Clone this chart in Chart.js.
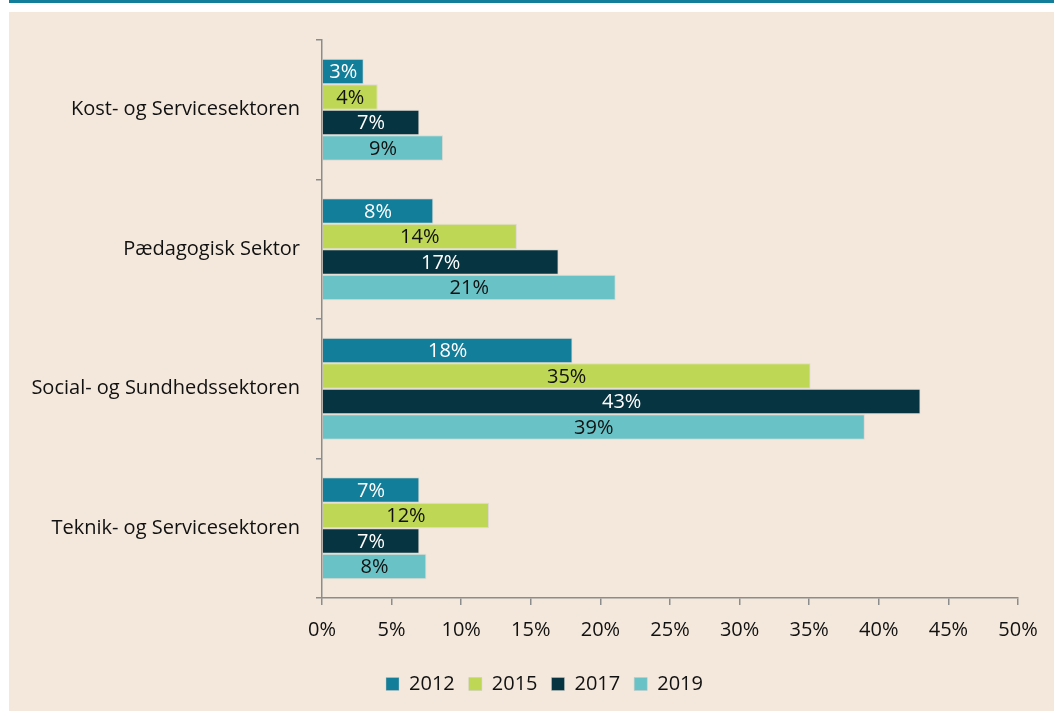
<!DOCTYPE html>
<html>
<head>
<meta charset="utf-8">
<script src="https://cdn.jsdelivr.net/npm/chart.js@4/dist/chart.umd.min.js"></script>
<style>
  html, body { margin: 0; padding: 0; background: #ffffff; width: 1054px; height: 711px; overflow: hidden; }
  #topline { position: absolute; left: 9px; top: 0; width: 1045px; height: 3px; background: #137E99; }
  #panel { position: absolute; left: 9px; top: 12px; width: 1045px; height: 699px; background: #F4E8DC; }
  #wrap { position: absolute; left: 0; top: 0; width: 1045px; height: 699px; }
</style>
</head>
<body>
<div id="topline"></div>
<div id="panel"><div id="wrap"><canvas id="c"></canvas></div></div>
<script>
const categories = ['Kost- og Servicesektoren', 'Pædagogisk Sektor', 'Social- og Sundhedssektoren', 'Teknik- og Servicesektoren'];
const years = ['2012', '2015', '2017', '2019'];
const values2012 = [3.0, 8.0, 18.0, 7.0];
const values2015 = [4.0, 14.0, 35.1, 12.0];
const values2017 = [7.0, 17.0, 43.0, 7.0];
const values2019 = [8.7, 21.1, 39.0, 7.5];
const xTicks = [0, 5, 10, 15, 20, 25, 30, 35, 40, 45, 50];

const colors = ['#137E99', '#BED755', '#073441', '#69C2C6'];
const labelColors = ['#ffffff', '#111111', '#ffffff', '#111111'];
const FONT = "'Open Sans', 'Noto Sans', sans-serif";

const barLabels = {
  id: 'barLabels',
  afterDatasetsDraw(chart) {
    const ctx = chart.ctx;
    ctx.save();
    ctx.font = '20px ' + FONT;
    ctx.textAlign = 'center';
    ctx.textBaseline = 'middle';
    chart.data.datasets.forEach((ds, i) => {
      const meta = chart.getDatasetMeta(i);
      meta.data.forEach((bar, j) => {
        const v = ds.data[j];
        ctx.fillStyle = labelColors[i];
        ctx.fillText(Math.round(v) + '%', (bar.x + bar.base) / 2, bar.y + 1);
      });
    });
    ctx.restore();
  }
};

const legendShift = {
  id: 'legendShift',
  afterLayout(chart) {
    if (chart.legend) {
      chart.legend.left += 31;
      chart.legend.right += 31;
    }
  }
};

const seriesValues = [values2012, values2015, values2017, values2019];

new Chart(document.getElementById('c'), {
  type: 'bar',
  data: {
    labels: categories,
    datasets: years.map((y, i) => ({
      label: y,
      data: seriesValues[i],
      backgroundColor: colors[i],
      borderColor: 'rgba(200,200,200,0.45)',
      borderWidth: 1,
      categoryPercentage: 0.73,
      barPercentage: 1.0
    }))
  },
  options: {
    indexAxis: 'y',
    responsive: true,
    maintainAspectRatio: false,
    animation: false,
    layout: { padding: { left: 0, right: 36, top: 28, bottom: 7 } },
    plugins: {
      legend: {
        position: 'bottom',
        labels: {
          boxWidth: 13, boxHeight: 13, padding: 14,
          color: '#111111',
          font: { family: FONT, size: 20 }
        }
      },
      tooltip: { enabled: false }
    },
    scales: {
      x: {
        min: 0, max: 50,
        afterBuildTicks(scale) { scale.ticks = xTicks.map(v => ({ value: v })); },
        afterFit(scale) { scale.height = 62; },
        border: { display: true, color: '#8c8c8c', width: 1.5 },
        grid: { drawOnChartArea: false, drawTicks: true, tickLength: 7, color: '#8c8c8c', lineWidth: 1.5 },
        ticks: {
          color: '#111111', padding: 13,
          font: { family: FONT, size: 20 },
          callback: v => v + '%'
        }
      },
      y: {
        afterFit(scale) { scale.width = 313; },
        border: { display: true, color: '#8c8c8c', width: 1.5 },
        grid: { drawOnChartArea: false, drawTicks: true, tickLength: 6, color: '#8c8c8c', lineWidth: 1.5, offset: true },
        ticks: {
          color: '#111111', padding: 16,
          font: { family: FONT, size: 20 }
        }
      }
    }
  },
  plugins: [barLabels, legendShift]
});
</script>
</body>
</html>
